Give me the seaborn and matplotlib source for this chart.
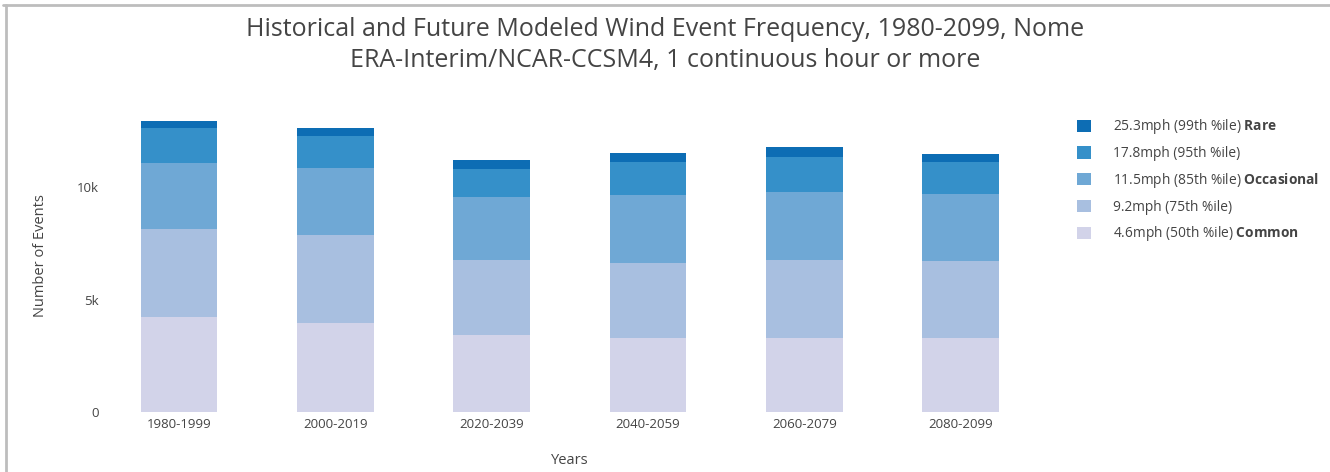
import matplotlib
matplotlib.use("Agg")
import matplotlib.pyplot as plt
from matplotlib.lines import Line2D
from matplotlib.patches import Patch
import numpy as np
import pandas as pd
import seaborn as sns

# Event counts per 20-year period, one list per wind threshold
periods = ["1980-1999", "2000-2019", "2020-2039", "2040-2059", "2060-2079", "2080-2099"]
p50 = [4250, 3970, 3440, 3290, 3290, 3290]
p75 = [3880, 3910, 3330, 3330, 3480, 3450]
p85 = [2960, 2990, 2810, 3040, 3010, 2950]
p95 = [1530, 1410, 1230, 1450, 1580, 1420]
p99 = [340, 370, 400, 400, 440, 360]

series_names = [
    r"4.6mph (50th %ile) $\mathbf{Common}$",
    r"9.2mph (75th %ile)",
    r"11.5mph (85th %ile) $\mathbf{Occasional}$",
    r"17.8mph (95th %ile)",
    r"25.3mph (99th %ile) $\mathbf{Rare}$",
]
series_colors = ["#d2d3e9", "#a8bfe0", "#6fa8d5", "#3590c9", "#0d6db4"]
y_ticks = [0, 5000, 10000]
y_tick_labels = ["0", "5k", "10k"]

sns.set_theme(style="white")
plt.rcParams["font.family"] = ["Open Sans", "DejaVu Sans"]
plt.rcParams["mathtext.fontset"] = "custom"
plt.rcParams["mathtext.rm"] = "Open Sans"
plt.rcParams["mathtext.bf"] = "Open Sans:bold"

layers = [p50, p75, p85, p95, p99]
cum = np.cumsum(np.array(layers), axis=0)

fig = plt.figure(figsize=(13.3, 4.72), dpi=100)
ax = fig.add_axes([0.0758, 0.1265, 0.7052, 0.662])

# Draw cumulative totals from the top layer down so each band shows its own share
for i in range(len(layers) - 1, -1, -1):
    df = pd.DataFrame({"period": periods, "events": cum[i]})
    sns.barplot(data=df, x="period", y="events", color=series_colors[i],
                width=0.49, saturation=1, linewidth=0, ax=ax, zorder=2)

ax.set_xlim(-0.5, len(periods) - 0.5)
ax.set_ylim(0, 13890)
ax.set_yticks(y_ticks)
ax.set_yticklabels(y_tick_labels)
ax.tick_params(axis="both", length=0, labelsize=9.5, colors="#444444")
ax.tick_params(axis="y", pad=1.5)
ax.tick_params(axis="x", pad=4)
ax.set_xlabel("Years", fontsize=10.5, color="#444444", labelpad=16)
ax.set_ylabel("Number of Events", fontsize=10.5, color="#444444", labelpad=20.5)
for s in ax.spines.values():
    s.set_visible(False)
ax.grid(False)

handles = [Patch(facecolor=series_colors[i], edgecolor="none") for i in range(4, -1, -1)]
labels = [series_names[i] for i in range(4, -1, -1)]
leg = fig.legend(handles, labels, loc="upper left", bbox_to_anchor=(0.806, 0.763),
                 frameon=False, fontsize=9.9, handlelength=1.0, handleheight=1.0,
                 handletextpad=1.6, labelspacing=0.71, borderaxespad=0)
for t in leg.get_texts():
    t.set_color("#444444")

fig.text(0.5, 0.937, "Historical and Future Modeled Wind Event Frequency, 1980-2099, Nome",
         ha="center", va="center", fontsize=18, color="#444444")
fig.text(0.5, 0.871, "ERA-Interim/NCAR-CCSM4, 1 continuous hour or more",
         ha="center", va="center", fontsize=18, color="#444444")

# Light frame along the top and left edges
fig.add_artist(Line2D([0.002, 1.0], [0.989, 0.989], transform=fig.transFigure,
                      color="#bdbdbd", lw=2))
fig.add_artist(Line2D([0.0045, 0.0045], [0.0, 0.989], transform=fig.transFigure,
                      color="#bdbdbd", lw=2))

fig.savefig("out.png", dpi=100, facecolor="white")
